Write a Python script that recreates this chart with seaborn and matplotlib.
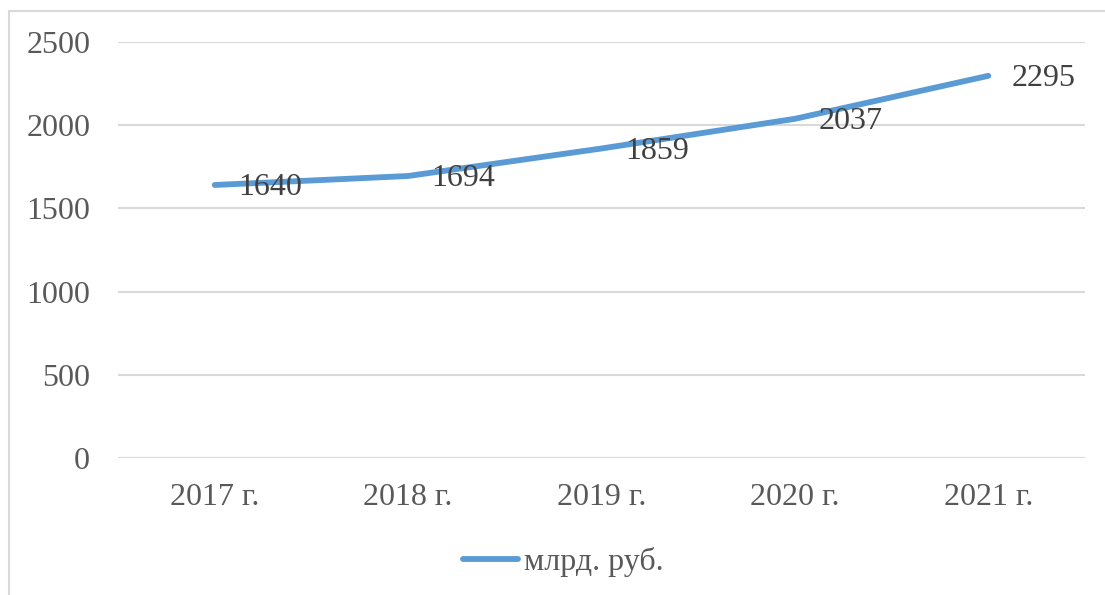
import numpy as np
import pandas as pd
import seaborn as sns
import matplotlib.pyplot as plt
from matplotlib.patches import Rectangle

years = ["2017 г.", "2018 г.", "2019 г.", "2020 г.", "2021 г."]
values = [1640, 1694, 1859, 2037, 2295]
series_name = "млрд. руб."
yticks = [0, 500, 1000, 1500, 2000, 2500]

df = pd.DataFrame({"year": years, "value": values, "series": series_name})
df["pos"] = np.arange(len(years))

sns.set_theme(style="white")
plt.rcParams["font.family"] = ["Liberation Serif", "DejaVu Serif"]

fig = plt.figure(figsize=(11.05, 5.95), dpi=100)
ax = fig.add_axes([0.1068, 0.2297, 0.8751, 0.7003])

line_color = "#5B9BD5"
sns.lineplot(data=df, x="pos", y="value", hue="series", palette=[line_color],
             linewidth=4.2, ax=ax, legend=True, solid_capstyle="round")

ax.set_xlim(-0.5, len(years) - 0.5)
ax.set_ylim(0, 2500)
ax.set_yticks(yticks)
ax.set_xticks(df["pos"])
ax.set_xticklabels(years)
ax.set_xlabel("")
ax.set_ylabel("")
ax.grid(axis="y", color="#D9D9D9", linewidth=1.5)
ax.grid(axis="x", visible=False)
for s in ax.spines.values():
    s.set_visible(False)
ax.tick_params(axis="y", length=0, pad=20, labelsize=23, labelcolor="#595959")
ax.tick_params(axis="x", length=0, pad=18, labelsize=23, labelcolor="#595959")

# data labels to the right of each point
for x, v in zip(df["pos"], values):
    ax.annotate(str(v), (x, v), xytext=(17, -2), textcoords="offset points",
                ha="left", va="center", fontsize=23, color="#404040")

leg = ax.legend(loc="center", bbox_to_anchor=(0.51, 0.055),
                bbox_transform=fig.transFigure, frameon=False,
                fontsize=23, handlelength=1.7, handletextpad=0.2,
                labelcolor="#595959")
for h in leg.get_lines():
    h.set_linewidth(4.2)
    h.set_solid_capstyle("round")

fig.patches.append(Rectangle((9 / 1105, -0.1), 1.2, 1 - 11 / 595 + 0.1,
                             transform=fig.transFigure, fill=False,
                             edgecolor="#D9D9D9", linewidth=1.5))

fig.savefig("out.png", dpi=100)
